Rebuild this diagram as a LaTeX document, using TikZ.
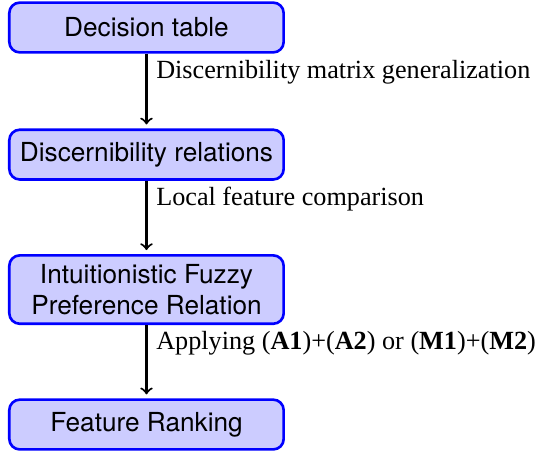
\documentclass[tikz,border=0pt]{standalone}
\usepackage{fontspec}
\setmainfont{Liberation Serif}
\setsansfont{TeX Gyre Heros}
\begin{document}
\begin{tikzpicture}[x=1pt,y=1pt,
  box/.style={draw=blue, fill=blue!20, line width=1pt, rounded corners=4pt,
    minimum width=104.7pt, minimum height=19pt, align=center,
    font=\sffamily\fontsize{10}{12}\selectfont},
  arr/.style={->, thick, shorten >=1.5pt},
  lab/.style={right, pos=0.25, font=\fontsize{10}{12}\selectfont}]
\useasboundingbox (0,0) rectangle (205.3,-172.9);
\node[box] (b1) at (55.9,-10.5) {Decision table};
\node[box] (b2) at (55.9,-59.0) {Discernibility relations};
\node[box, minimum height=24.6pt] (b3) at (55.9,-110.5) {Intuitionistic Fuzzy\\Preference Relation};
\node[box] (b4) at (55.9,-162.0) {Feature Ranking};
\draw[arr] (b1) -- node[lab] {Discernibility matrix generalization} (b2);
\draw[arr] (b2) -- node[lab] {Local feature comparison} (b3);
\draw[arr] (b3) -- node[lab] {Applying (\textbf{A1})+(\textbf{A2}) or (\textbf{M1})+(\textbf{M2})} (b4);
\end{tikzpicture}
\end{document}
